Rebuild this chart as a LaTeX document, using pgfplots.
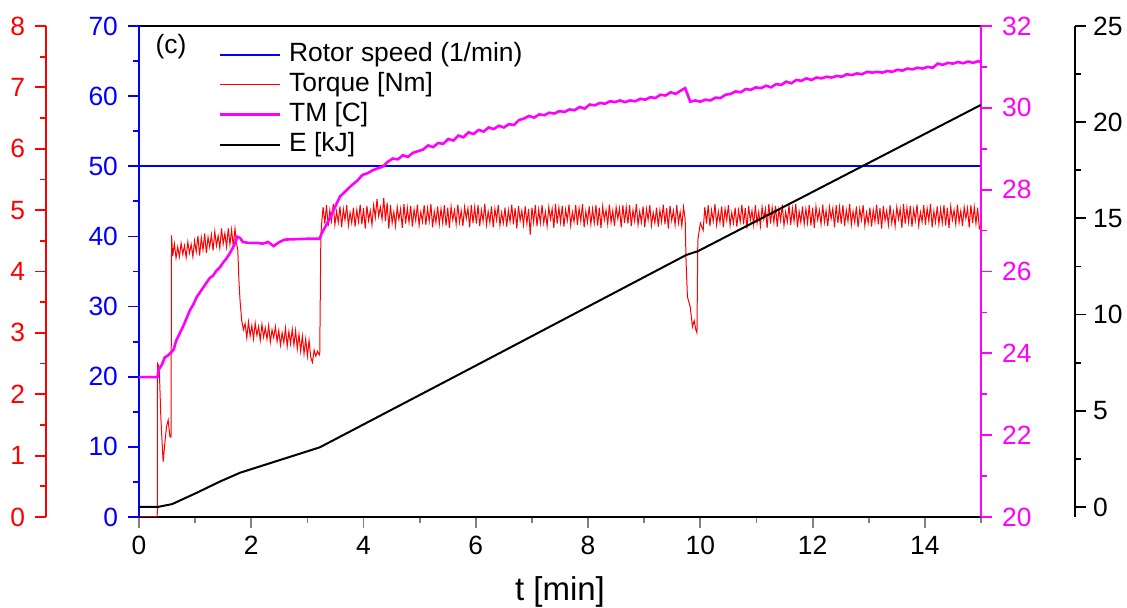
\documentclass[border=0pt]{standalone}
\usepackage{fontspec}
\setmainfont{Liberation Sans}
\usepackage{pgfplots}
\pgfplotsset{compat=1.18}
\definecolor{cred}{RGB}{255,0,0}
\definecolor{cblue}{RGB}{0,0,255}
\definecolor{cmag}{RGB}{255,0,255}
\newcommand\tl{\fontsize{13.2}{15}\selectfont}
\pgfplotsset{
  base/.style={scale only axis, width=421pt, height=245.5pt, xmin=0, xmax=15,
    tick align=outside, major tick length=5.5pt, minor tick length=3pt,
    every tick/.append style={line width=0.9pt},
    axis line style={line width=1pt},
    tick label style={font=\tl},
    /pgf/number format/assume math mode=true,
    at={(0pt,0pt)}, anchor=south west, clip=true},
}
\begin{document}
\begin{tikzpicture}
\path[use as bounding box] (-69.5pt,-45.5pt) rectangle (494pt,258.5pt);

% rotor speed, blue left axis
\begin{axis}[base, ymin=0, ymax=70,
  axis y line*=left,
  ytick={0,10,...,70}, minor ytick={5,15,...,65},
  xtick={0,2,...,14}, minor xtick={1,3,...,15}, xtick pos=left,
  y axis line style={cblue}, ytick style={cblue}, yticklabel style={cblue, xshift=-1.5pt},
  xticklabel style={yshift=-0.5pt},
  xlabel={t [min]},
  every axis x label/.style={at={(axis description cs:0.5,0)}, anchor=center, yshift=-37.5pt, font=\fontsize{16.5}{18}\selectfont},
  legend style={at={(0.094,0.972)}, anchor=north west, draw=none, fill=none, inner sep=0pt,
    font=\tl, row sep=0.5pt, column sep=3pt,
    nodes={inner sep=1pt, text height=9.5pt, text depth=3pt}},
  legend cell align=left,
  legend image code/.code={\draw[#1] (0pt,0pt) -- (30pt,0pt);},
]
\addplot[cblue, line width=0.9pt] coordinates {(0,50) (15,50)};
\addlegendentry{Rotor speed (1/min)}
\addlegendimage{cred, line width=0.5pt}
\addlegendentry{Torque [Nm]}
\addlegendimage{cmag, line width=1.3pt}
\addlegendentry{TM [C]}
\addlegendimage{black, line width=0.9pt}
\addlegendentry{E [kJ]}
\node[font=\tl] at (axis cs:0.57,67) {(c)};
\end{axis}

% torque data
\begin{axis}[base, hide axis, ymin=0, ymax=8]
\addplot[cred, line width=0.5pt] coordinates {
(0,0)(0.325,0)(0.33,2.5)(0.36,2.45)(0.39,1.6)(0.43,0.9)(0.46,1.2)(0.49,1.47)(0.52,1.58)(0.55,1.31)(0.57,1.3)(0.58,4.59)
(0.60,4.25)(0.63,4.45)(0.66,4.22)(0.69,4.40)(0.72,4.24)(0.75,4.46)(0.78,4.28)(0.81,4.42)(0.84,4.23)(0.87,4.48)
(0.90,4.30)(0.93,4.44)(0.96,4.24)(0.99,4.50)(1.02,4.32)(1.05,4.58)(1.08,4.26)(1.11,4.55)(1.14,4.35)(1.17,4.62)
(1.20,4.30)(1.23,4.56)(1.26,4.40)(1.29,4.60)(1.32,4.34)(1.35,4.65)(1.38,4.42)(1.41,4.58)(1.44,4.38)(1.47,4.70)
(1.50,4.45)(1.53,4.62)(1.56,4.40)(1.59,4.70)(1.62,4.44)(1.65,4.68)(1.68,4.40)(1.71,4.70)(1.74,4.45)
(1.76,4.35)(1.78,3.86)(1.80,3.53)(1.83,3.20)
(1.86,3.05)(1.89,3.15)(1.92,2.92)(1.95,3.18)(1.98,2.95)(2.01,3.12)(2.04,2.90)(2.07,3.16)(2.10,2.96)(2.13,3.10)
(2.16,2.88)(2.19,3.14)(2.22,2.93)(2.25,3.08)(2.28,2.90)(2.31,3.12)(2.34,2.85)(2.37,3.05)(2.40,2.92)(2.43,3.10)
(2.46,2.86)(2.49,3.04)(2.52,2.80)(2.55,3.00)(2.58,2.84)(2.61,3.08)(2.64,2.78)(2.67,3.02)(2.70,2.82)(2.73,3.06)
(2.76,2.80)(2.79,3.04)(2.82,2.74)(2.85,2.98)(2.88,2.70)(2.91,2.95)(2.94,2.66)(2.97,2.90)(3.00,2.62)(3.03,2.88)
(3.06,2.60)(3.09,2.52)(3.12,2.72)(3.15,2.62)(3.18,2.70)(3.21,2.64)(3.22,2.68)(3.24,4.60)(3.26,4.85)
(3.28,5.05)(3.31,4.78)(3.34,5.08)(3.37,4.74)(3.40,5.00)(3.43,4.82)(3.46,5.10)(3.49,4.76)(3.52,4.98)(3.55,4.80)
(3.58,5.06)(3.61,4.72)(3.64,5.02)(3.67,4.84)(3.70,5.08)(3.73,4.75)(3.76,4.96)(3.79,4.79)(3.82,5.04)(3.85,4.73)
(3.88,5.00)(3.91,4.81)(3.94,5.09)(3.97,4.77)(4.00,5.03)(4.03,4.70)(4.06,5.07)(4.09,4.83)(4.12,4.99)(4.15,4.76)
(4.18,5.08)(4.21,4.88)(4.24,5.18)(4.27,4.90)(4.30,5.05)(4.33,4.85)(4.36,5.20)(4.39,4.82)(4.42,5.12)(4.45,4.70)
(4.48,5.08)(4.51,4.79)(4.54,4.97)(4.57,4.74)(4.60,5.05)(4.63,4.85)(4.66,5.02)(4.69,4.71)(4.72,5.10)(4.75,4.78)
(4.78,5.04)(4.81,4.80)(4.84,5.07)(4.87,4.73)(4.90,5.01)(4.93,4.83)(4.96,5.09)(4.99,4.75)(5.02,4.97)(5.05,4.81)
(5.08,5.08)(5.11,4.76)(5.14,5.03)(5.17,4.82)(5.20,5.10)(5.23,4.72)(5.26,4.98)(5.29,4.80)(5.32,5.06)(5.35,4.77)
(5.38,5.02)(5.41,4.79)(5.44,5.08)(5.47,4.75)(5.50,5.04)(5.53,4.71)(5.56,5.06)(5.59,4.84)(5.62,5.00)(5.65,4.77)
(5.68,5.09)(5.71,4.80)(5.74,4.99)(5.77,4.74)(5.80,5.05)(5.83,4.86)(5.86,5.03)(5.89,4.72)(5.92,5.08)(5.95,4.79)
(5.98,5.05)(6.01,4.78)(6.04,5.08)(6.07,4.74)(6.10,5.00)(6.13,4.82)(6.16,5.10)(6.19,4.76)(6.22,4.98)(6.25,4.80)
(6.28,5.06)(6.31,4.72)(6.34,5.02)(6.37,4.84)(6.40,5.08)(6.43,4.75)(6.46,4.96)(6.49,4.79)(6.52,5.04)(6.55,4.73)
(6.58,5.00)(6.61,4.81)(6.64,5.09)(6.67,4.77)(6.70,5.03)(6.73,4.70)(6.76,5.07)(6.79,4.83)(6.82,4.99)(6.85,4.76)
(6.88,5.06)(6.91,4.78)(6.94,5.02)(6.97,4.60)(7.00,5.04)(7.03,4.80)(7.06,5.08)(7.09,4.74)(7.12,5.01)(7.15,4.79)
(7.18,5.08)(7.21,4.79)(7.24,4.97)(7.27,4.74)(7.30,5.05)(7.33,4.85)(7.36,5.02)(7.39,4.71)(7.42,5.10)(7.45,4.78)
(7.48,5.04)(7.51,4.80)(7.54,5.07)(7.57,4.73)(7.60,5.01)(7.63,4.83)(7.66,5.09)(7.69,4.75)(7.72,4.97)(7.75,4.81)
(7.78,5.08)(7.81,4.76)(7.84,5.03)(7.87,4.82)(7.90,5.10)(7.93,4.72)(7.96,4.98)(7.99,4.80)(8.02,5.06)(8.05,4.77)
(8.08,5.02)(8.11,4.79)(8.14,5.08)(8.17,4.75)(8.20,5.04)(8.23,4.71)(8.26,5.06)(8.29,4.84)(8.32,5.00)(8.35,4.77)
(8.38,5.09)(8.41,4.80)(8.44,4.99)(8.47,4.74)(8.50,5.05)(8.53,4.86)(8.56,5.03)(8.59,4.72)(8.62,5.08)(8.65,4.79)
(8.68,5.05)(8.71,4.78)(8.74,5.08)(8.77,4.74)(8.80,5.00)(8.83,4.82)(8.86,5.10)(8.89,4.76)(8.92,4.98)(8.95,4.80)
(8.98,5.06)(9.01,4.72)(9.04,5.02)(9.07,4.84)(9.10,5.08)(9.13,4.75)(9.16,4.96)(9.19,4.79)(9.22,5.04)(9.25,4.73)
(9.28,5.00)(9.31,4.81)(9.34,5.09)(9.37,4.77)(9.40,5.03)(9.43,4.70)(9.46,5.07)(9.49,4.83)(9.52,4.99)(9.55,4.76)
(9.58,5.08)(9.61,4.79)(9.64,4.97)(9.67,4.74)(9.70,5.05)(9.73,4.85)
(9.745,4.18)(9.77,3.59)(9.82,3.42)(9.86,3.10)(9.89,3.20)(9.92,3.05)(9.94,3.00)(9.955,4.51)(10.00,4.79)(10.05,4.67)
(10.08,5.05)(10.11,4.78)(10.14,5.08)(10.17,4.74)(10.20,5.00)(10.23,4.82)(10.26,5.10)(10.29,4.76)(10.32,4.98)(10.35,4.80)
(10.38,5.06)(10.41,4.72)(10.44,5.02)(10.47,4.84)(10.50,5.08)(10.53,4.75)(10.56,4.96)(10.59,4.79)(10.62,5.04)(10.65,4.73)
(10.68,5.00)(10.71,4.81)(10.74,5.09)(10.77,4.77)(10.80,5.03)(10.83,4.70)(10.86,5.07)(10.89,4.83)(10.92,4.99)(10.95,4.76)
(10.98,5.08)(11.01,4.79)(11.04,4.97)(11.07,4.74)(11.10,5.05)(11.13,4.85)(11.16,5.02)(11.19,4.71)(11.22,5.10)(11.25,4.78)
(11.28,5.04)(11.31,4.80)(11.34,5.07)(11.37,4.73)(11.40,5.01)(11.43,4.83)(11.46,5.09)(11.49,4.75)(11.52,4.97)(11.55,4.81)
(11.58,5.08)(11.61,4.76)(11.64,5.03)(11.67,4.82)(11.70,5.10)(11.73,4.72)(11.76,4.98)(11.79,4.80)(11.82,5.06)(11.85,4.77)
(11.88,5.02)(11.91,4.79)(11.94,5.08)(11.97,4.75)(12.00,5.04)(12.03,4.71)(12.06,5.06)(12.09,4.84)(12.12,5.00)(12.15,4.77)
(12.18,5.09)(12.21,4.80)(12.24,4.99)(12.27,4.74)(12.30,5.05)(12.33,4.86)(12.36,5.03)(12.39,4.72)(12.42,5.08)(12.45,4.79)
(12.48,5.05)(12.51,4.78)(12.54,5.08)(12.57,4.74)(12.60,5.00)(12.63,4.82)(12.66,5.10)(12.69,4.76)(12.72,4.98)(12.75,4.80)
(12.78,5.06)(12.81,4.72)(12.84,5.02)(12.87,4.84)(12.90,5.08)(12.93,4.75)(12.96,4.96)(12.99,4.79)(13.02,5.04)(13.05,4.73)
(13.08,5.00)(13.11,4.81)(13.14,5.09)(13.17,4.77)(13.20,5.03)(13.23,4.70)(13.26,5.07)(13.29,4.83)(13.32,4.99)(13.35,4.76)
(13.38,5.08)(13.41,4.79)(13.44,4.97)(13.47,4.74)(13.50,5.05)(13.53,4.85)(13.56,5.02)(13.59,4.71)(13.62,5.10)(13.65,4.78)
(13.68,5.04)(13.71,4.80)(13.74,5.07)(13.77,4.73)(13.80,5.01)(13.83,4.83)(13.86,5.09)(13.89,4.75)(13.92,4.97)(13.95,4.81)
(13.98,5.08)(14.01,4.76)(14.04,5.03)(14.07,4.82)(14.10,5.10)(14.13,4.72)(14.16,4.98)(14.19,4.80)(14.22,5.06)(14.25,4.77)
(14.28,5.02)(14.31,4.79)(14.34,5.08)(14.37,4.75)(14.40,5.04)(14.43,4.71)(14.46,5.06)(14.49,4.84)(14.52,5.00)(14.55,4.77)
(14.58,5.09)(14.61,4.80)(14.64,4.99)(14.67,4.74)(14.70,5.05)(14.73,4.86)(14.76,5.03)(14.79,4.72)(14.82,5.08)(14.85,4.79)
(14.88,5.05)(14.91,4.78)(14.94,5.04)(14.97,4.70)(15.00,4.75)
};
\end{axis}

% TM, magenta right axis
\begin{axis}[base, ymin=20, ymax=32,
  axis y line*=right, hide x axis,
  ytick={20,22,...,32}, minor ytick={21,23,...,31},
  y axis line style={cmag}, ytick style={cmag}, yticklabel style={cmag, xshift=1.5pt}]
\addplot[cmag, line width=1.3pt] coordinates {
(0,23.42)(0.33,23.42)(0.35,23.6)(0.40,23.7)(0.46,23.9)(0.52,23.95)(0.59,24.05)(0.62,24.1)(0.66,24.3)(0.73,24.5)
(0.80,24.7)(0.86,24.9)(0.91,25.06)(0.97,25.2)(1.03,25.38)(1.09,25.5)(1.15,25.62)(1.20,25.72)(1.26,25.84)(1.32,25.9)
(1.38,26.02)(1.44,26.1)(1.50,26.22)(1.56,26.32)(1.62,26.45)(1.68,26.6)(1.72,26.72)(1.75,26.85)(1.80,26.82)(1.85,26.72)
(1.95,26.7)(2.1,26.7)(2.2,26.68)(2.3,26.72)(2.4,26.62)(2.5,26.72)(2.6,26.78)(2.8,26.79)(3.0,26.8)(3.22,26.8)
(3.25,26.92)(3.31,27.07)(3.4,27.3)(3.5,27.6)(3.58,27.83)(3.67,27.95)(3.76,28.07)
(3.80,28.12)(3.89,28.22)(3.98,28.36)(4.07,28.40)(4.16,28.47)(4.25,28.52)(4.34,28.56)(4.43,28.68)(4.52,28.76)(4.61,28.74)
(4.70,28.84)(4.79,28.80)(4.88,28.90)(4.97,28.94)(5.06,28.98)(5.15,29.08)(5.24,29.04)(5.33,29.14)(5.42,29.12)(5.51,29.24)
(5.60,29.20)(5.69,29.32)(5.78,29.28)(5.87,29.40)(5.96,29.36)(6.05,29.46)(6.14,29.42)(6.23,29.52)(6.32,29.48)(6.41,29.56)
(6.50,29.52)(6.59,29.60)(6.68,29.58)(6.77,29.70)(6.86,29.74)(6.95,29.80)(7.04,29.76)(7.13,29.84)(7.22,29.82)(7.31,29.88)
(7.40,29.86)(7.49,29.92)(7.58,29.90)(7.67,29.96)(7.76,29.94)(7.85,30.02)(7.94,29.98)(8.03,30.08)(8.12,30.06)(8.21,30.12)
(8.30,30.10)(8.39,30.16)(8.48,30.14)(8.57,30.18)(8.66,30.14)(8.75,30.18)(8.84,30.16)(8.93,30.22)(9.02,30.20)(9.11,30.26)
(9.20,30.24)(9.29,30.32)(9.38,30.30)(9.47,30.38)(9.56,30.34)(9.65,30.42)(9.73,30.48)
(9.78,30.30)(9.82,30.15)(9.91,30.18)(10.0,30.15)(10.09,30.20)(10.18,30.18)(10.27,30.25)(10.36,30.24)(10.45,30.32)(10.54,30.34)
(10.63,30.40)(10.72,30.38)(10.81,30.46)(10.90,30.44)(10.99,30.50)(11.08,30.48)(11.17,30.54)(11.26,30.50)(11.35,30.58)(11.44,30.56)
(11.53,30.64)(11.62,30.60)(11.71,30.68)(11.80,30.66)(11.89,30.72)(11.98,30.68)(12.07,30.74)(12.16,30.72)(12.25,30.76)(12.34,30.74)
(12.43,30.78)(12.52,30.76)(12.61,30.82)(12.70,30.80)(12.79,30.84)(12.88,30.82)(12.97,30.88)(13.06,30.86)(13.15,30.88)(13.24,30.86)
(13.33,30.90)(13.42,30.88)(13.51,30.93)(13.60,30.91)(13.69,30.96)(13.78,30.94)(13.87,30.98)(13.96,30.96)(14.05,31.00)(14.14,30.98)
(14.23,31.08)(14.32,31.05)(14.41,31.10)(14.50,31.08)(14.59,31.12)(14.68,31.09)(14.77,31.13)(14.86,31.10)(14.95,31.14)(15.0,31.12)
};
\end{axis}

% energy data
\begin{axis}[base, hide axis, ymin=-0.52, ymax=25]
\addplot[black, line width=1pt] coordinates {
(0,0)(0.33,0)(0.59,0.15)(1.03,0.74)(1.44,1.32)(1.80,1.78)(2.51,2.44)(3.22,3.10)(6.08,7.47)(9.75,13.1)(9.96,13.3)(15,20.9)
};
\end{axis}

% red scale (torque)
\begin{axis}[base, at={(-46.5pt,0pt)}, width=1pt, xmin=0, xmax=1, ymin=0, ymax=8,
  axis y line*=left, hide x axis,
  ytick={0,1,...,8}, minor ytick={0.5,1.5,...,7.5},
  y axis line style={cred}, ytick style={cred}, yticklabel style={cred, xshift=-1.5pt}]
\addplot[draw=none] coordinates {(0,0)};
\end{axis}

% black scale (energy)
\begin{axis}[base, at={(468pt,0pt)}, anchor=south east, width=1pt, xmin=0, xmax=1, ymin=-0.52, ymax=25,
  axis y line*=right, hide x axis,
  ytick={0,5,...,25}, minor ytick={2.5,7.5,...,22.5},
  y axis line style={black}, ytick style={black}, yticklabel style={black}]
\addplot[draw=none] coordinates {(0,0)};
\end{axis}
\end{tikzpicture}
\end{document}
